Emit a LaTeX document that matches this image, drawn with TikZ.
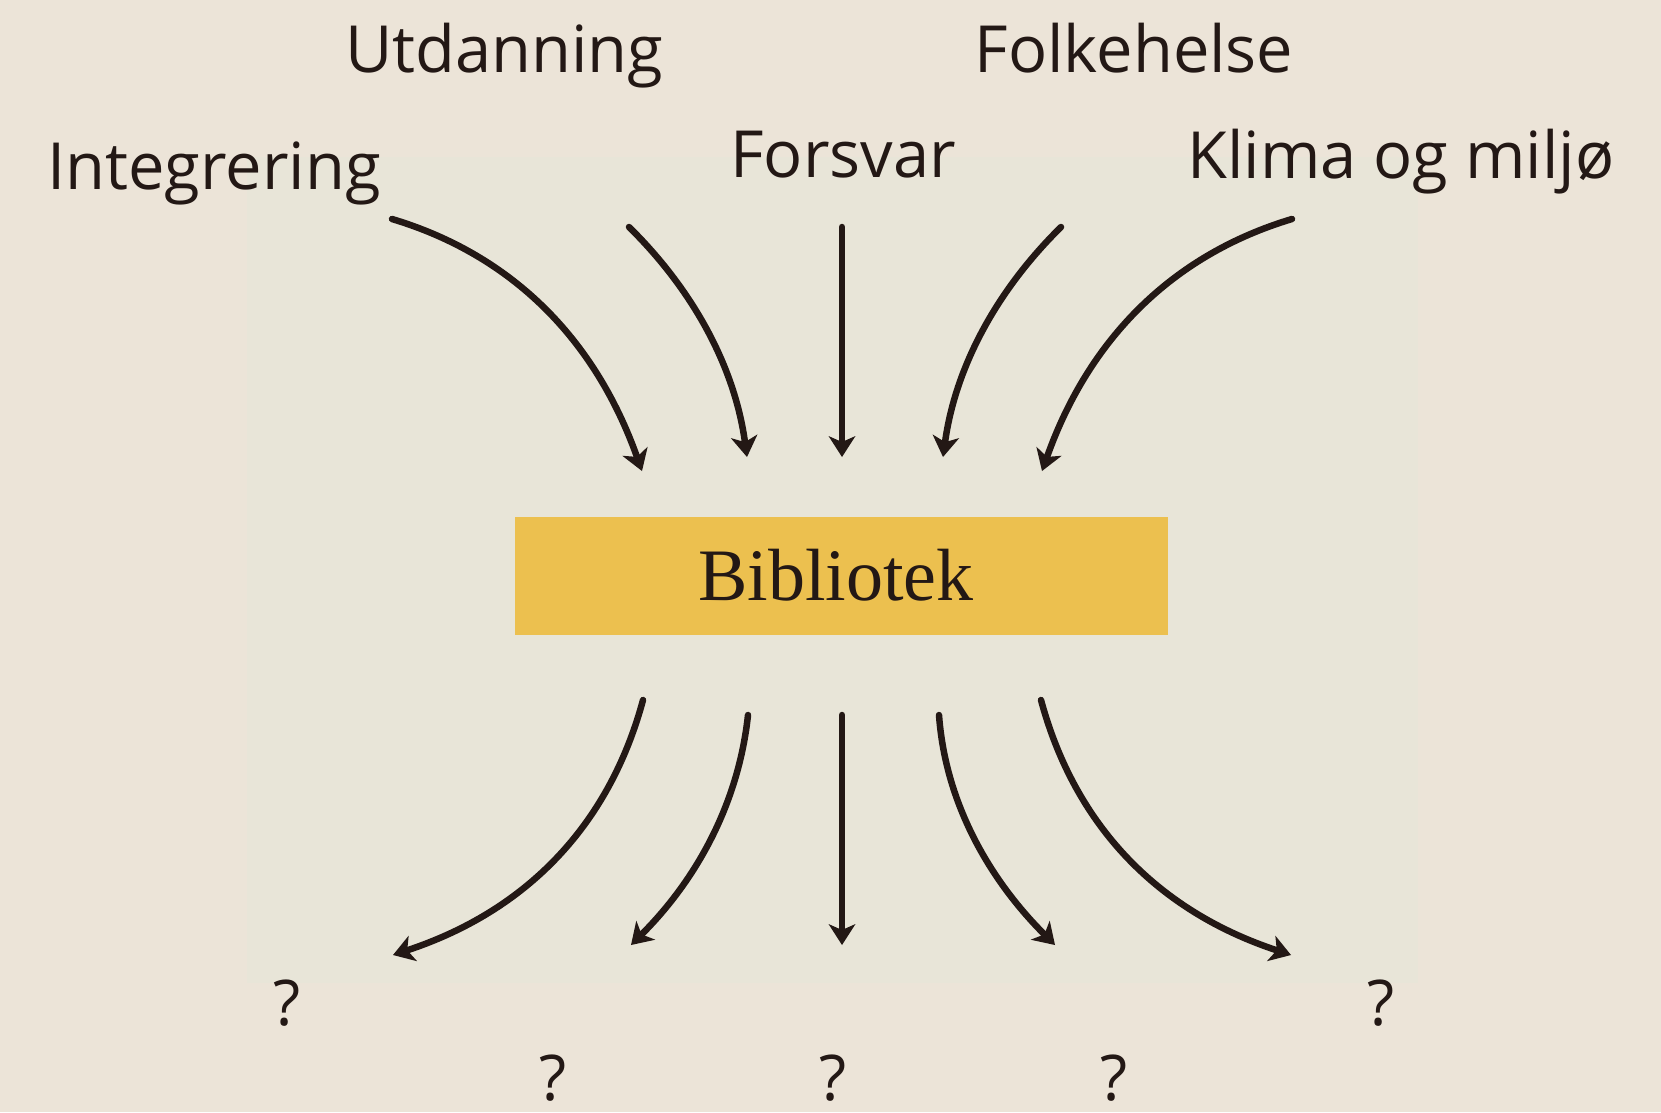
\documentclass[tikz,border=0pt]{standalone}
\usepackage{fontspec}
\usetikzlibrary{arrows.meta}
\newfontfamily\labfont{Open Sans}
\newfontfamily\bibfont{Liberation Serif}
\definecolor{outerbg}{RGB}{236,228,216}
\definecolor{innerbg}{RGB}{232,229,216}
\definecolor{boxyellow}{RGB}{236,192,79}
\definecolor{ink}{RGB}{35,24,21}
\tikzset{
  lab/.style={anchor=base, inner sep=0pt, text=ink, font=\labfont\fontsize{65}{78}\selectfont},
  qmark/.style={anchor=base, inner sep=0pt, text=ink, font=\labfont\fontsize{63}{78}\selectfont},
  conn/.style={draw=ink, line width=6.5pt, line cap=round,
    -{Stealth[length=21pt, width=27pt, inset=6pt, line width=0pt]}},
  libbox/.style={fill=boxyellow, draw=none, minimum width=653pt, minimum height=118pt, inner sep=0pt}
}
\begin{document}
\begin{tikzpicture}[x=1pt, y=-1pt]
  \useasboundingbox (0,0) rectangle (1661,1112);
  \fill[outerbg] (0,0) rectangle (1661,1112);
  \fill[innerbg] (247,157) rectangle (1418,983);

  % labels
  \node[lab] (utd) at (504,72) {Utdanning};
  \node[lab] (folk) at (1134,72) {Folkehelse};
  \node[lab] (integ) at (214,189) {Integrering};
  \node[lab] (forsv) at (843,177) {Forsvar};
  \node[lab] (klima) at (1401,178) {Klima og miljø};

  % central box
  \node[libbox] (bib) at (841.5,576) {};
  \node[anchor=base, inner sep=0pt, text=ink, font=\bibfont\fontsize{74}{80}\selectfont] (bibtxt) at (836,600) {Bibliotek};

  % question marks
  \node[qmark] (q1) at (287,1025) {?};
  \node[qmark] (q2) at (553,1100) {?};
  \node[qmark] (q3) at (833,1100) {?};
  \node[qmark] (q4) at (1114,1100) {?};
  \node[qmark] (q5) at (1381,1025) {?};

  % connector end points
  \coordinate (t1s) at (392,219);  \coordinate (t1e) at (642,471);
  \coordinate (t2s) at (629,227);  \coordinate (t2e) at (747,457);
  \coordinate (t3s) at (842,227);  \coordinate (t3e) at (842,457);
  \coordinate (t4s) at (1061,227); \coordinate (t4e) at (943,457);
  \coordinate (t5s) at (1292,219); \coordinate (t5e) at (1042,471);

  \coordinate (b1s) at (643,700);  \coordinate (b1e) at (393,955);
  \coordinate (b2s) at (748,715);  \coordinate (b2e) at (631,945);
  \coordinate (b3s) at (842,715);  \coordinate (b3e) at (842,945);
  \coordinate (b4s) at (939,715);  \coordinate (b4e) at (1055,945);
  \coordinate (b5s) at (1041,700); \coordinate (b5e) at (1291,955);

  % incoming arrows
  \draw[conn] (t1s) .. controls (512,255) and (595,339) .. (t1e);
  \draw[conn] (t2s) .. controls (696,293) and (735,370) .. (t2e);
  \draw[conn] (t3s) -- (t3e);
  \draw[conn] (t4s) .. controls (994,293) and (955,370) .. (t4e);
  \draw[conn] (t5s) .. controls (1172,255) and (1089,339) .. (t5e);

  % outgoing arrows
  \draw[conn] (b1s) .. controls (609,826) and (526,911) .. (b1e);
  \draw[conn] (b2s) .. controls (739,799) and (700,876) .. (b2e);
  \draw[conn] (b3s) -- (b3e);
  \draw[conn] (b4s) .. controls (945,799) and (986,876) .. (b4e);
  \draw[conn] (b5s) .. controls (1075,826) and (1158,911) .. (b5e);
\end{tikzpicture}
\end{document}
